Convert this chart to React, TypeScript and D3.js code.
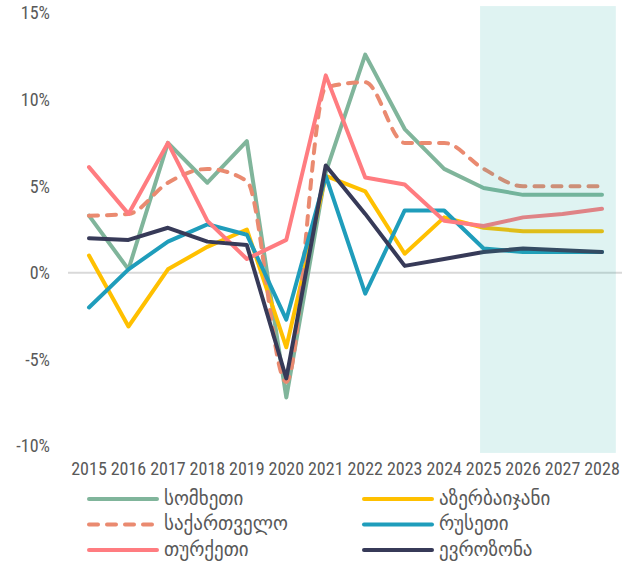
import { useEffect, useRef } from "react";
import * as d3 from "d3";

const years = ["2015", "2016", "2017", "2018", "2019", "2020", "2021", "2022", "2023", "2024", "2025", "2026", "2027", "2028"];
const forecastYears = ["2025", "2028"];
const yTicks = [15, 10, 5, 0, -5, -10];

const armenia = [3.3, 0.2, 7.5, 5.2, 7.6, -7.2, 5.8, 12.6, 8.3, 6.0, 4.9, 4.5, 4.5, 4.5];
const azerbaijan = [1.0, -3.1, 0.2, 1.5, 2.5, -4.3, 5.6, 4.7, 1.1, 3.2, 2.6, 2.4, 2.4, 2.4];
const georgia = [3.3, 3.4, 5.2, 6.0, 5.3, -6.3, 10.7, 11.0, 7.5, 7.5, 6.0, 5.0, 5.0, 5.0];
const russia = [-2.0, 0.2, 1.8, 2.8, 2.2, -2.7, 5.6, -1.2, 3.6, 3.6, 1.4, 1.2, 1.2, 1.2];
const turkey = [6.1, 3.4, 7.5, 3.0, 0.8, 1.9, 11.4, 5.5, 5.1, 3.0, 2.7, 3.2, 3.4, 3.7];
const eurozone = [2.0, 1.9, 2.6, 1.8, 1.6, -6.1, 6.2, 3.4, 0.4, 0.8, 1.2, 1.4, 1.3, 1.2];

type Series = { name: string; values: number[]; color: string; dashed?: boolean };

// draw order = legend order (row by row)
const series: Series[] = [
  { name: "სომხეთი", values: armenia, color: "#80B59B" },
  { name: "აზერბაიჯანი", values: azerbaijan, color: "#FFC000" },
  { name: "საქართველო", values: georgia, color: "#EA8A70", dashed: true },
  { name: "რუსეთი", values: russia, color: "#1F9DBB" },
  { name: "თურქეთი", values: turkey, color: "#FF7C80" },
  { name: "ევროზონა", values: eurozone, color: "#373A58" },
];

const numFont = "'Liberation Sans Narrow', 'Roboto Condensed', Roboto, sans-serif";
const geoFont = "'DejaVu Sans', sans-serif";
const textColor = "#595959";

const App = () => {
  const svgRef = useRef<SVGSVGElement | null>(null);

  useEffect(() => {
    const width = 627;
    const height = 567;

    const svg = d3.select(svgRef.current).attr("width", width).attr("height", height);
    svg.selectAll("*").remove();

    const x = d3.scalePoint<string>().domain(years).range([89, 602]);
    const step = x.step();
    const y = d3.scaleLinear().domain([-10, 15]).range([446, 13]);

    // zero line
    svg
      .append("line")
      .attr("x1", 68)
      .attr("x2", 622)
      .attr("y1", y(0))
      .attr("y2", y(0))
      .attr("stroke", "#D9D9D9")
      .attr("stroke-width", 2);

    // y labels
    svg
      .append("g")
      .selectAll("text")
      .data(yTicks)
      .join("text")
      .attr("x", 50)
      .attr("y", (d) => y(d))
      .attr("dy", "0.36em")
      .attr("text-anchor", "end")
      .attr("font-family", numFont)
      .attr("font-size", 18)
      .attr("fill", textColor)
      .text((d) => `${d}%`);

    // x labels
    svg
      .append("g")
      .selectAll("text")
      .data(years)
      .join("text")
      .attr("x", (d) => x(d) as number)
      .attr("y", 475)
      .attr("text-anchor", "middle")
      .attr("font-family", numFont)
      .attr("font-size", 18)
      .attr("fill", textColor)
      .text((d) => d);

    // lines
    const linesLayer = svg.append("g");
    series.forEach((s) => {
      const line = d3
        .line<number>()
        .x((_, i) => x(years[i]) as number)
        .y((d) => y(d))
        .curve(s.dashed ? d3.curveMonotoneX : d3.curveLinear);
      linesLayer
        .append("path")
        .datum(s.values)
        .attr("d", line)
        .attr("fill", "none")
        .attr("stroke", s.color)
        .attr("stroke-width", 4)
        .attr("stroke-linejoin", "round")
        .attr("stroke-linecap", "round")
        .attr("stroke-dasharray", s.dashed ? "9,9" : null);
    });

    // forecast shading (overlays the lines)
    const x0 = (x(forecastYears[0]) as number) - step * 0.09;
    const x1 = (x(forecastYears[1]) as number) + step * 0.35;
    svg
      .append("rect")
      .attr("x", x0)
      .attr("y", y(15.4))
      .attr("width", x1 - x0)
      .attr("height", y(-10.4) - y(15.4))
      .attr("fill", "rgb(42,175,168)")
      .attr("opacity", 0.15);

    // legend
    const legend = svg.append("g");
    const item = legend
      .selectAll("g")
      .data(series)
      .join("g")
      .attr("transform", (_, i) => `translate(${i % 2 === 0 ? 89 : 364}, ${499 + Math.floor(i / 2) * 25.5})`);

    item
      .append("line")
      .attr("x1", 0)
      .attr("x2", 68)
      .attr("stroke", (d) => d.color)
      .attr("stroke-width", 4)
      .attr("stroke-linecap", "round")
      .attr("stroke-dasharray", (d) => (d.dashed ? "9,9" : null));

    item
      .append("text")
      .attr("x", 75)
      .attr("dy", "0.3em")
      .attr("font-family", geoFont)
      .attr("font-size", 19)
      .attr("fill", textColor)
      .text((d) => d.name);
  }, []);

  return (
    <div style={{ position: "absolute", left: 0, top: 0 }}>
      <svg ref={svgRef} style={{ display: "block" }} />
    </div>
  );
};

export default App;
